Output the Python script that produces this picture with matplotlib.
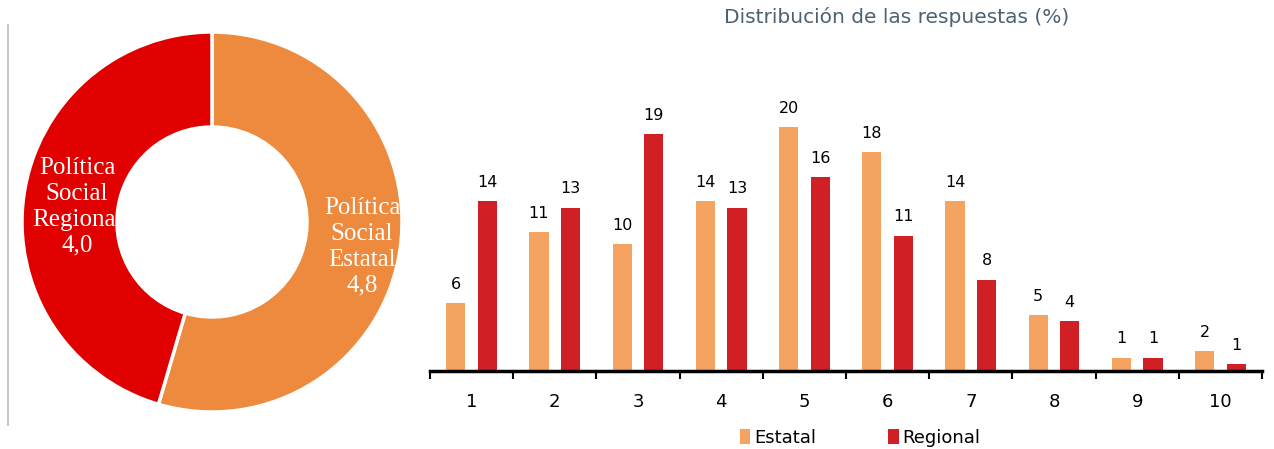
import numpy as np
import matplotlib.pyplot as plt
from matplotlib.lines import Line2D

# Datos
donut_labels = ['Política\nSocial\nEstatal\n4,8', 'Política\nSocial\nRegional\n4,0']
donut_values = [4.8, 4.0]

categories = ['1', '2', '3', '4', '5', '6', '7', '8', '9', '10']
estatal = [5.6, 11.4, 10.4, 13.9, 20.0, 17.95, 13.9, 4.6, 1.1, 1.6]
regional = [13.9, 13.4, 19.4, 13.4, 15.9, 11.1, 7.5, 4.1, 1.1, 0.6]

c_est_donut = '#EE8A3D'
c_reg_donut = '#E00000'
c_est = '#F4A460'
c_reg = '#D01F25'

fig = plt.figure(figsize=(12.74, 4.49), dpi=100)

# Línea gris a la izquierda
fig.add_artist(Line2D([8/1274, 8/1274], [1-25/449, 1-425/449], color='#c8c8c8', lw=1.5))

# Donut
ax1 = fig.add_axes([22/1274, 1-412/449, 380/1274, 380/449])
ax1.pie(donut_values, startangle=90, counterclock=False,
        colors=[c_est_donut, c_reg_donut],
        wedgeprops=dict(width=0.5, edgecolor='white', linewidth=2.5))
ax1.set_xlim(-1, 1)
ax1.set_ylim(-1, 1)
ax1.set_aspect('equal')
ax1.axis('off')
ax1.text(0.79, -0.13, donut_labels[0], color='white', ha='center', va='center',
         family='Liberation Serif', fontsize=18, linespacing=1.22)
ax1.text(-0.71, 0.08, donut_labels[1], color='white', ha='center', va='center',
         family='Liberation Serif', fontsize=18, linespacing=1.22)

# Barras
ax2 = fig.add_axes([430/1274, 1-371/449, 832/1274, 268.4/449])
x = np.arange(len(categories))
w = 0.23
off = 0.19
b1 = ax2.bar(x - off, estatal, w, color=c_est, label='Estatal')
b2 = ax2.bar(x + off, regional, w, color=c_reg, label='Regional')
for bars, vals in [(b1, estatal), (b2, regional)]:
    for b, v in zip(bars, vals):
        ax2.annotate(f'{v:.0f}', (b.get_x() + b.get_width()/2, v),
                     xytext=(0, 8), textcoords='offset points',
                     ha='center', va='bottom', fontsize=11.5, color='black')

ax2.set_xlim(-0.5, len(categories) - 0.5)
ax2.set_ylim(0, 22)
for s in ['top', 'right', 'left']:
    ax2.spines[s].set_visible(False)
ax2.spines['bottom'].set_linewidth(2.5)
ax2.set_yticks([])
ax2.set_xticks(x)
ax2.set_xticklabels(categories, fontsize=13)
ax2.tick_params(axis='x', which='major', length=0, pad=16)
ax2.set_xticks(np.arange(-0.5, len(categories)), minor=True)
ax2.tick_params(axis='x', which='minor', length=6, width=1.5, direction='out')

ax2.legend(loc='center', bbox_to_anchor=(0.517, -0.248), ncol=2, frameon=False,
           fontsize=13, handlelength=0.6, handleheight=0.9, handletextpad=0.2,
           columnspacing=4.0)

fig.text(897/1274, 1-17/449, 'Distribución de las respuestas (%)', ha='center', va='center',
         fontsize=14.5, color='#4B6272')

fig.savefig('out.png', dpi=100)
